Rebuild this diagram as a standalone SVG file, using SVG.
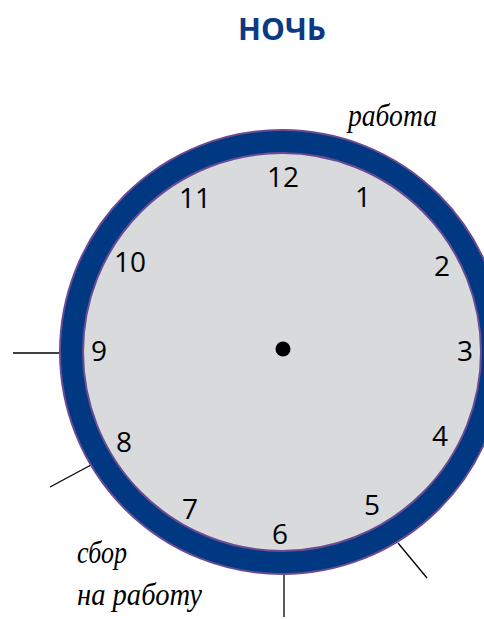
<svg xmlns="http://www.w3.org/2000/svg" width="484" height="619" viewBox="0 0 484 619">
<style>
.num{font-family:"Open Sans","Noto Sans",sans-serif;font-size:28px;fill:#000;text-anchor:middle}
.hand{font-family:"Liberation Serif","DejaVu Serif",serif;font-style:italic;font-size:32px;fill:#000}
.tick{stroke:#000;stroke-width:1.3;fill:none}
.title{font-family:"Open Sans","Noto Sans",sans-serif;font-weight:bold;font-size:30px;fill:#0b3a85;text-anchor:middle}
</style>
<rect width="484" height="619" fill="#fff"/>
<g id="title"><text class="title" x="282" y="40">НОЧЬ</text></g>
<g id="connectors">
<line class="tick" x1="13" y1="353" x2="59" y2="353"/>
<line class="tick" x1="50" y1="487" x2="91" y2="465"/>
<line class="tick" x1="284" y1="574" x2="284" y2="617"/>
<line class="tick" x1="398" y1="543" x2="427" y2="578"/>
</g>
<g id="clock">
<circle cx="282" cy="352" r="222" fill="#003882" stroke="#6a4b94" stroke-width="2"/>
<circle cx="282" cy="352" r="199" fill="#d9dadc" stroke="#6a4b94" stroke-width="2"/>
<circle cx="283" cy="349" r="7.5" fill="#000"/>
</g>
<g id="numbers">
<text class="num" x="283" y="187">12</text>
<text class="num" x="363" y="207">1</text>
<text class="num" x="442" y="276">2</text>
<text class="num" x="465" y="361">3</text>
<text class="num" x="440" y="446">4</text>
<text class="num" x="372" y="515">5</text>
<text class="num" x="280" y="544">6</text>
<text class="num" x="190" y="519">7</text>
<text class="num" x="124" y="452">8</text>
<text class="num" x="99" y="361">9</text>
<text class="num" x="130" y="272">10</text>
<text class="num" x="195" y="208">11</text>
</g>
<g id="label-work"><text class="hand" x="348" y="126" textLength="89" lengthAdjust="spacingAndGlyphs">работа</text></g>
<g id="label-prepare">
<text class="hand" x="77" y="563" textLength="50" lengthAdjust="spacingAndGlyphs">сбор</text>
<text class="hand" x="77" y="605" textLength="125" lengthAdjust="spacingAndGlyphs">на работу</text>
</g>
</svg>
